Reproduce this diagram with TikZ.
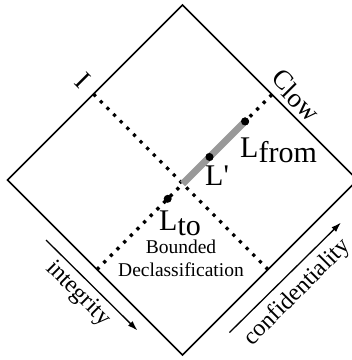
\documentclass[tikz,border=0pt]{standalone}
\usepackage{fontspec}
\setmainfont{Liberation Serif}
\usetikzlibrary{arrows.meta,calc}
\begin{document}
\begin{tikzpicture}[x=1pt,y=-1pt,
  edge/.style={line width=1.6pt},
  dots/.style={line width=3.2pt, dash pattern=on 3.2pt off 6.2pt},
  path/.style={line width=7pt, draw=black!40},
  axis/.style={line width=1.3pt, -{Latex[length=10pt,width=6.5pt]}},
  big/.style={font=\fontsize{30}{30}\selectfont, inner sep=0pt},
  side/.style={font=\fontsize{27}{27}\selectfont, inner sep=0pt},
  axislabel/.style={font=\fontsize{24}{24}\selectfont, inner sep=0pt},
  small/.style={font=\fontsize{19.5}{19.5}\selectfont, inner sep=0pt},
  dot/.style={circle, fill, inner sep=0pt, minimum size=8pt}]
\useasboundingbox (0,0) rectangle (352,360);
\clip (0,0) rectangle (352,360);

% lattice outline
\coordinate (top) at (182.5,5);
\coordinate (right) at (357.5,180);
\coordinate (bottom) at (182.5,355);
\coordinate (left) at (7.5,180);
\draw[edge, line join=miter] (top) -- (right) -- (bottom) -- (left) -- cycle;

% bounded declassification region
\coordinate (pi) at (93.5,94);
\coordinate (pc) at (272,94.5);
\coordinate (plr) at (268,269.5);
\coordinate (pll) at (97,269.5);
\draw[dots] (pi) -- (plr);
\draw[dots] (pc) -- (pll);

% declassification path and labels
\coordinate (x) at (intersection of pi--plr and pc--pll);
\node[dot] (lfrom) at ($(pc)!0.154!(pll)$) {};
\node[dot] (lprime) at ($(pc)!0.357!(pll)$) {};
\node[dot] (lto) at ($(pc)!0.596!(pll)$) {};
\draw[path] (x) -- (lfrom.center);
\node[dot] at (lfrom) {};
\node[dot] at (lprime) {};

\node[big, anchor=base west] (tfrom) at (240,157) {L\raisebox{-5pt}{from}};
\node[big, anchor=base west] (tprime) at (205,185) {L\textquotesingle};
\node[big, anchor=base west] (tto) at (159,230.5) {L\raisebox{-5pt}{to}};
\node[small, anchor=base] (tbounded) at (181,253) {Bounded};
\node[small, anchor=base] (tdecl) at (181,276.5) {Declassification};

% corner labels
\node[side, rotate=-45] (ti) at (83,80) {I};
\node[side, rotate=-45] (tc) at (296,95) {C\raisebox{-4pt}{low}};

% ordering axes
\coordinate (ia) at (46,240);
\coordinate (ib) at (137.5,330.5);
\coordinate (ca) at (229.5,332.5);
\coordinate (cb) at (341,222.5);
\draw[axis] (ia) -- (ib);
\draw[axis] (ca) -- (cb);
\node[axislabel, rotate=-45] (tint) at (78,294) {integrity};
\node[axislabel, rotate=45] (tconf) at (297.5,292.5) {confidentiality};
\end{tikzpicture}
\end{document}
